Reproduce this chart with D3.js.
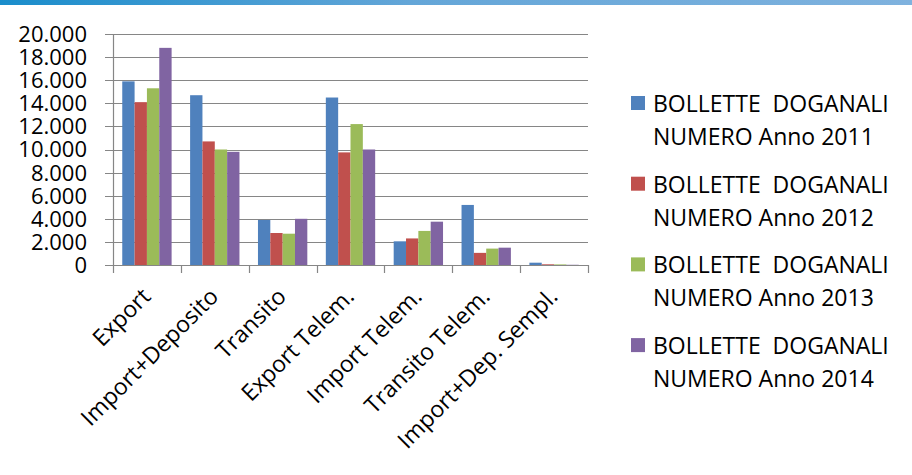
<!DOCTYPE html>
<html>
<head>
<meta charset="utf-8">
<script src="https://cdn.jsdelivr.net/npm/d3@7"></script>
<style>
  body { margin: 0; background: #fff; }
  svg { display: block; }
  text { font-family: "Open Sans", sans-serif; fill: #000; }
</style>
</head>
<body>
<div id="draw"></div>
<script>
// data
let categories = ['Export', 'Import+Deposito', 'Transito', 'Export Telem.', 'Import Telem.', 'Transito Telem.', 'Import+Dep. Sempl.'];
let series = ['BOLLETTE  DOGANALI NUMERO Anno 2011', 'BOLLETTE  DOGANALI NUMERO Anno 2012',
              'BOLLETTE  DOGANALI NUMERO Anno 2013', 'BOLLETTE  DOGANALI NUMERO Anno 2014'];
let values2011 = [15900, 14700, 3900, 14500, 2050, 5200, 200];
let values2012 = [14100, 10700, 2770, 9750, 2300, 1050, 60];
let values2013 = [15300, 10000, 2710, 12200, 2950, 1420, 50];
let values2014 = [18800, 9800, 4000, 10000, 3750, 1500, 20];
let yTicks = [0, 2000, 4000, 6000, 8000, 10000, 12000, 14000, 16000, 18000, 20000];
let colors = ['#4f81bd', '#c0504d', '#9bbb59', '#8064a2'];

let allValues = [values2011, values2012, values2013, values2014];
let rows = categories.map((c, i) => ({ cat: c, vals: allValues.map(s => s[i]) }));

// parameters
let width = 912, height = 475;
let plot = { left: 113, right: 588, top: 34, bottom: 265 };
let fmt = v => d3.format(',')(v).replace(/,/g, '.');

let svg = d3.select('#draw').append('svg').attr('width', width).attr('height', height);

// top banner
let grad = svg.append('defs').append('linearGradient').attr('id', 'banner');
grad.append('stop').attr('offset', '0%').attr('stop-color', '#1a8dcb');
grad.append('stop').attr('offset', '45%').attr('stop-color', '#64a6d8');
grad.append('stop').attr('offset', '100%').attr('stop-color', '#7fb2de');
svg.append('rect').attr('x', 0).attr('y', 0).attr('width', width).attr('height', 5).attr('fill', 'url(#banner)');

let x0 = d3.scaleBand().domain(categories).range([plot.left, plot.right]);
let x1 = d3.scaleBand().domain(d3.range(series.length)).range([0, x0.bandwidth()]).paddingOuter(0.75);
let y = d3.scaleLinear().domain([0, 20000]).range([plot.bottom, plot.top]);

// gridlines + y ticks
svg.append('g').selectAll('line').data(yTicks).enter().append('line')
    .attr('x1', plot.left - 8).attr('x2', plot.right)
    .attr('y1', d => Math.round(y(d)) + 0.5).attr('y2', d => Math.round(y(d)) + 0.5)
    .attr('stroke', '#868686').attr('stroke-width', 1.2);

svg.append('g').selectAll('text').data(yTicks).enter().append('text')
    .attr('x', 87).attr('y', d => y(d)).attr('dy', '0.36em')
    .attr('text-anchor', 'end').style('font-size', '22px')
    .text(fmt);

// bars
let groups = svg.append('g').selectAll('g').data(rows).enter().append('g')
    .attr('transform', d => 'translate(' + x0(d.cat) + ',0)');
groups.selectAll('rect').data(d => d.vals).enter().append('rect')
    .attr('x', (v, i) => x1(i))
    .attr('width', x1.bandwidth())
    .attr('y', v => y(v))
    .attr('height', v => y(0) - y(v))
    .attr('fill', (v, i) => colors[i]);

// axes lines
svg.append('line').attr('x1', plot.left + 0.5).attr('x2', plot.left + 0.5)
    .attr('y1', plot.top).attr('y2', plot.bottom)
    .attr('stroke', '#868686').attr('stroke-width', 1.2);
svg.append('line').attr('x1', plot.left - 8).attr('x2', plot.right)
    .attr('y1', plot.bottom + 0.5).attr('y2', plot.bottom + 0.5)
    .attr('stroke', '#868686').attr('stroke-width', 1.2);
let xTickPos = categories.map(c => x0(c)).concat([plot.right]);
svg.append('g').selectAll('line').data(xTickPos).enter().append('line')
    .attr('x1', d => Math.round(d) + 0.5).attr('x2', d => Math.round(d) + 0.5)
    .attr('y1', plot.bottom).attr('y2', plot.bottom + 8)
    .attr('stroke', '#868686').attr('stroke-width', 1.2);

// category labels
svg.append('g').selectAll('text').data(categories).enter().append('text')
    .attr('text-anchor', 'end').style('font-size', '23px')
    .attr('transform', d => 'translate(' + (x0(d) + x0.bandwidth() / 2 + 5) + ',' + (plot.bottom + 33) + ') rotate(-45)')
    .text(d => d);

// legend
let legend = svg.append('g').selectAll('g').data(series).enter().append('g')
    .attr('transform', (d, i) => 'translate(631,' + (96 + i * 80.7) + ')');
legend.append('rect').attr('width', 14).attr('height', 14).attr('fill', (d, i) => colors[i]);
legend.append('text').attr('x', 22).attr('y', 16).style('font-size', '23px').style('white-space', 'pre')
    .text('BOLLETTE  DOGANALI');
legend.append('text').attr('x', 22).attr('y', 49).style('font-size', '23px')
    .text((d, i) => 'NUMERO Anno ' + (2011 + i));
</script>
</body>
</html>
